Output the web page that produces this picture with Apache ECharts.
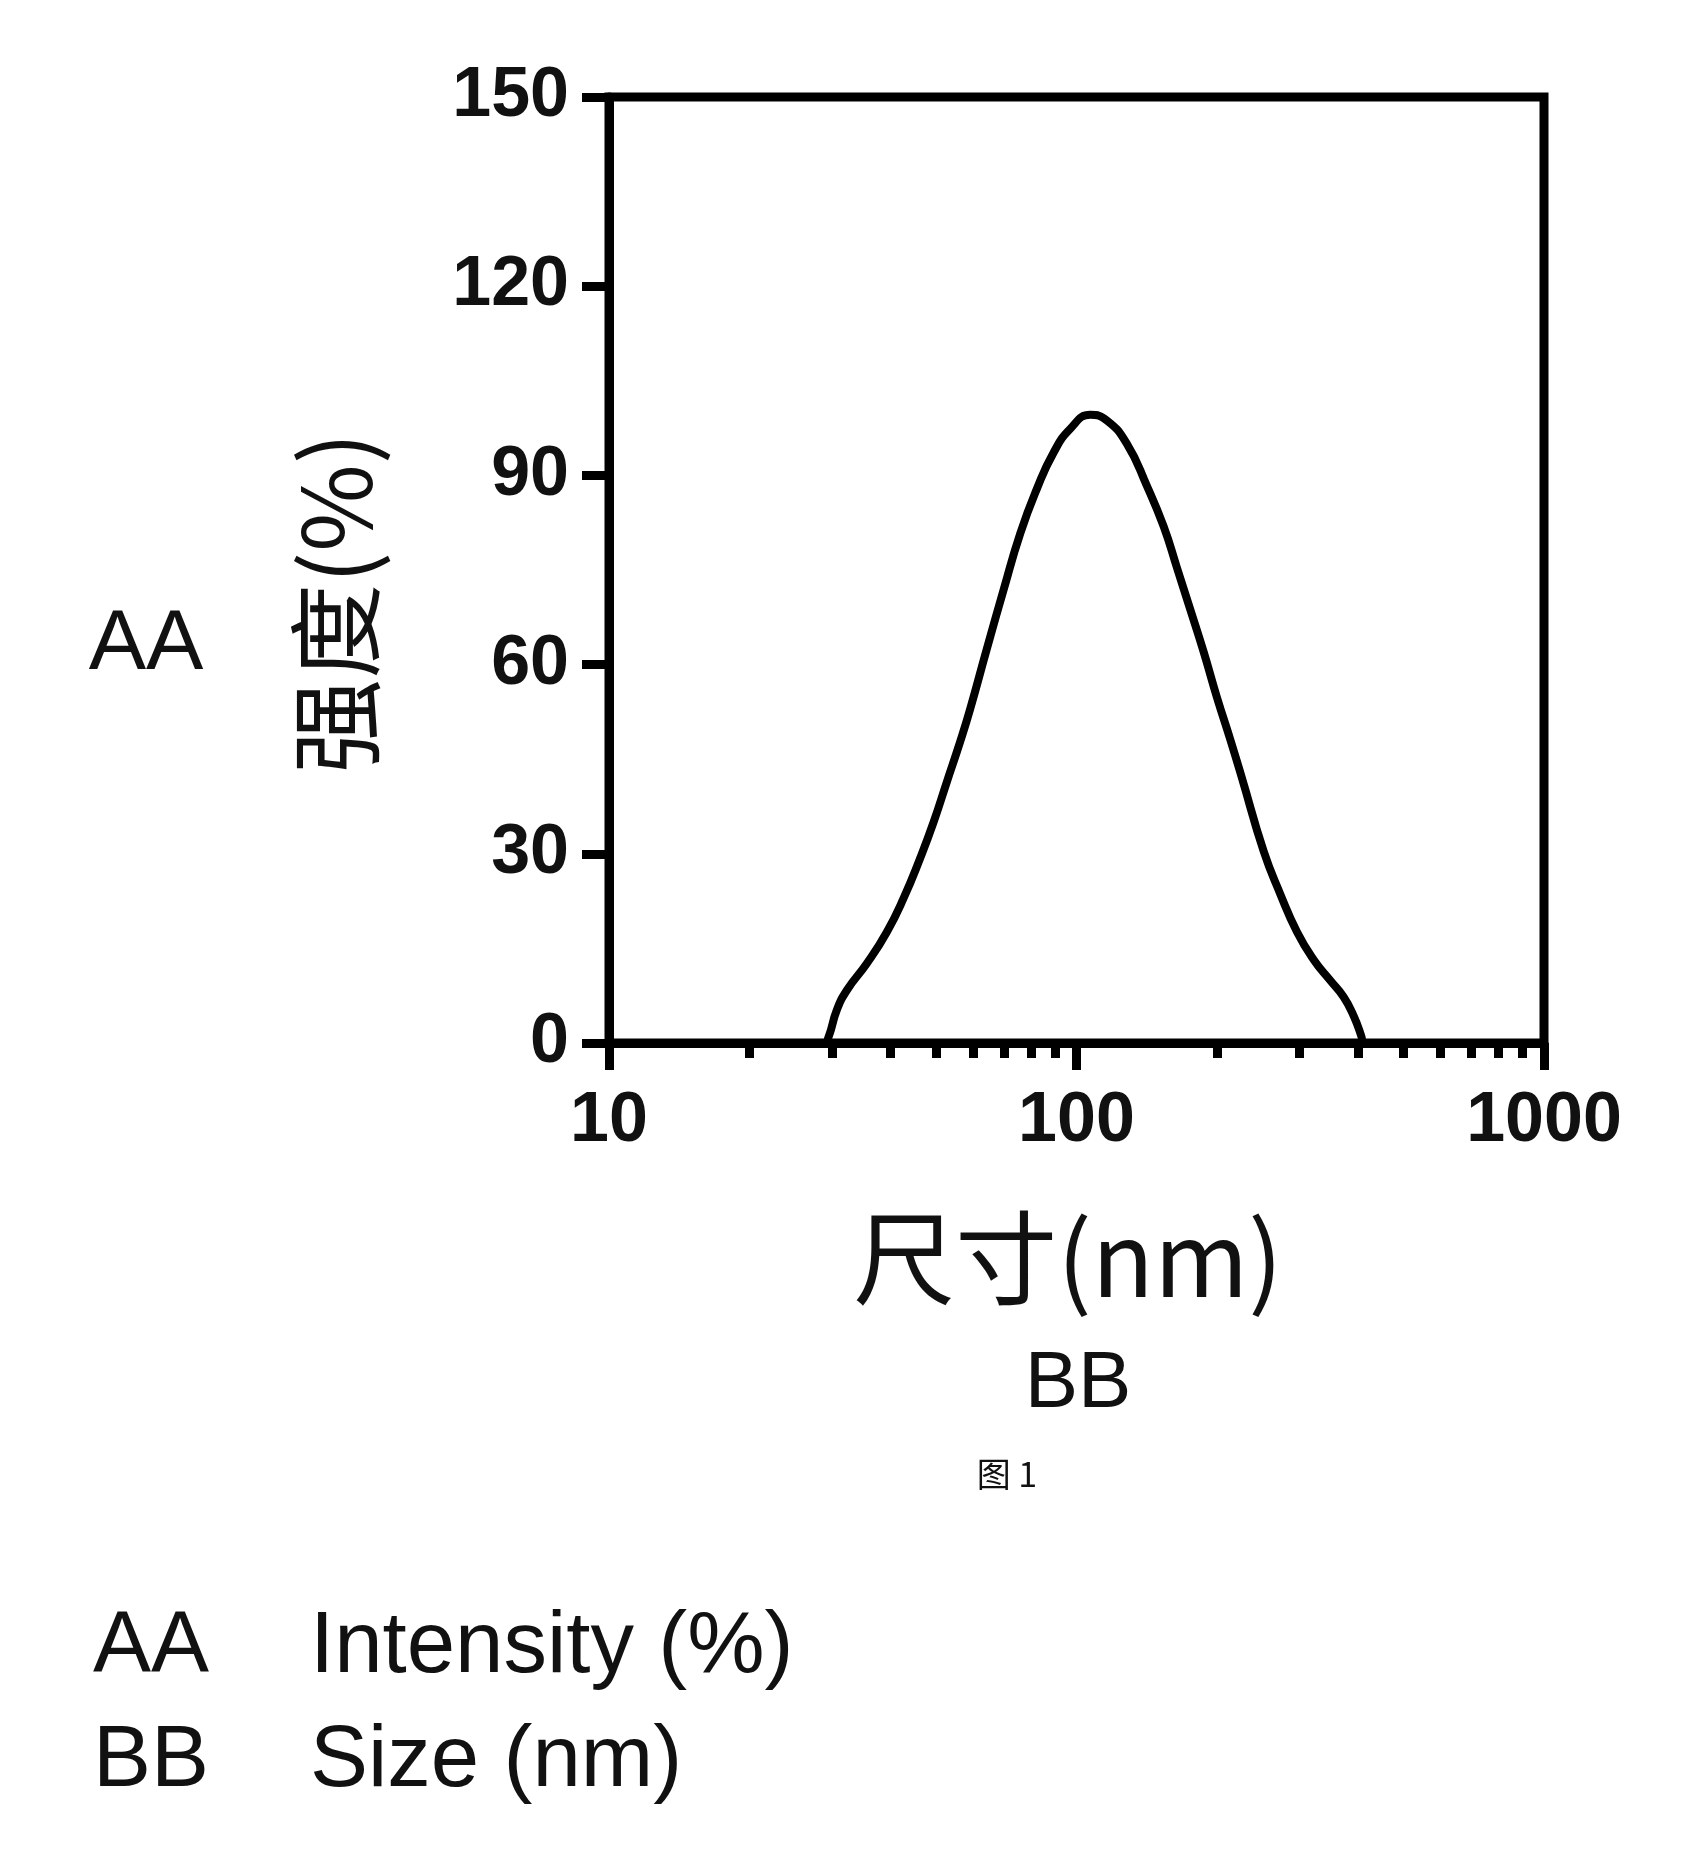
<!DOCTYPE html>
<html>
<head>
<meta charset="utf-8">
<title>图1 强度-尺寸</title>
<script src="https://cdn.jsdelivr.net/npm/echarts@6/dist/echarts.min.js"></script>
<style>
  html, body { margin: 0; padding: 0; background: #fff; }
  #chart { width: 1706px; height: 1872px; }
</style>
</head>
<body>
<div id="chart"></div>
<script>
// 粒径 (nm)
const sizes = [10, 28.8, 29.5, 30.7, 32.3, 35.6, 39.3, 42.7, 46.3, 49.4, 52.8, 56.4, 59.2, 64.3, 69.8, 75.8, 82.3, 89.3, 97.0,
  107.0, 116.2, 128.2, 141.5, 153.6, 164.1, 175.2, 187.1, 199.7, 213.3, 225.9, 251.4, 272.9, 296.3, 321.6, 349.1, 372.8, 391.6, 407, 410, 1000];
// 强度 (%)
const intensity = [0, 0, 1.0, 5.2, 8.4, 12.6, 17.6, 23.0, 29.3, 34.9, 41.4, 47.8, 52.9, 62.5, 71.8, 80.8, 87.9, 93.6, 97.4,
  99.6, 98.7, 95.0, 88.3, 81.9, 75.3, 68.7, 62.0, 54.8, 48.1, 42.0, 30.4, 23.6, 17.6, 13.2, 9.9, 7.3, 4.3, 1.0, 0, 0];

const xMajorTicks = [10, 100, 1000];
const xMinorTicks = [20, 30, 40, 50, 60, 70, 80, 90, 200, 300, 400, 500, 600, 700, 800, 900];
const yMin = 0;
const yMax = 150;
const yStep = 30;

const yAxisName = '强度(%)';
const xAxisName = '尺寸(nm)';
const legendRows = [['AA', 'Intensity (%)'], ['BB', 'Size (nm)']];

const INK = '#111';
const LATIN = '"Liberation Sans", Arial, sans-serif';
const CJK = '"Noto Sans CJK SC", "Liberation Sans", sans-serif';
const LINE_W = 9;

const chart = echarts.init(document.getElementById('chart'));

/**
 * 画布上的普通文字
 */
function text(str, x, y, size, family, align, extra) {
  return Object.assign({
    type: 'text',
    x: x,
    y: y,
    style: {
      text: str,
      x: 0,
      y: 0,
      fontSize: size,
      fontFamily: family,
      fill: INK,
      textAlign: align || 'center',
      textVerticalAlign: 'middle'
    }
  }, extra || {});
}

const graphics = [
  text('AA', 146, 645, 86, LATIN),
  // 纵轴名称，逆时针旋转
  text(yAxisName, 336, 603, 95, CJK, 'center', {rotation: Math.PI / 2}),
  text(xAxisName, 1068, 1258, 102, CJK),
  text('BB', 1078, 1385, 80, LATIN),
  text('图 1', 1007, 1474, 34, CJK)
];
legendRows.forEach((row, i) => {
  const cy = 1648 + i * 114;
  graphics.push(text(row[0], 93, cy, 87, LATIN, 'left'));
  graphics.push(text(row[1], 310, cy, 87, LATIN, 'left'));
});

const tickLabelStyle = {
  color: INK,
  fontSize: 70,
  fontWeight: 'bold',
  fontFamily: LATIN
};

chart.setOption({
  backgroundColor: '#fff',
  animation: false,
  grid: {
    left: 609,
    right: 162,
    top: 97,
    bottom: 829,
    show: true,
    borderColor: '#000',
    borderWidth: LINE_W
  },
  xAxis: [
    {
      type: 'log',
      logBase: 10,
      min: 10,
      max: 1000,
      position: 'bottom',
      axisLine: {lineStyle: {color: '#000', width: LINE_W}},
      axisTick: {show: true, inside: false, length: 27, lineStyle: {color: '#000', width: LINE_W}, customValues: xMajorTicks},
      axisLabel: Object.assign({
        margin: 44,
        customValues: xMajorTicks,
        formatter: v => String(v)
      }, tickLabelStyle),
      splitLine: {show: false}
    },
    {
      // 次刻度
      type: 'log',
      logBase: 10,
      min: 10,
      max: 1000,
      position: 'bottom',
      axisLine: {show: false},
      axisTick: {show: true, inside: false, length: 15, lineStyle: {color: '#000', width: LINE_W}, customValues: xMinorTicks},
      axisLabel: {show: false},
      splitLine: {show: false}
    }
  ],
  yAxis: {
    type: 'value',
    min: yMin,
    max: yMax,
    interval: yStep,
    axisLine: {show: true, lineStyle: {color: '#000', width: LINE_W}},
    axisTick: {show: true, inside: false, length: 27, lineStyle: {color: '#000', width: LINE_W}},
    axisLabel: Object.assign({margin: 40}, tickLabelStyle),
    splitLine: {show: false}
  },
  series: [
    {
      type: 'line',
      xAxisIndex: 0,
      data: sizes.map((s, i) => [s, intensity[i]]),
      showSymbol: false,
      smooth: 0.5,
      lineStyle: {color: '#000', width: 8},
      z: 3
    }
  ],
  graphic: graphics
});
</script>
</body>
</html>
